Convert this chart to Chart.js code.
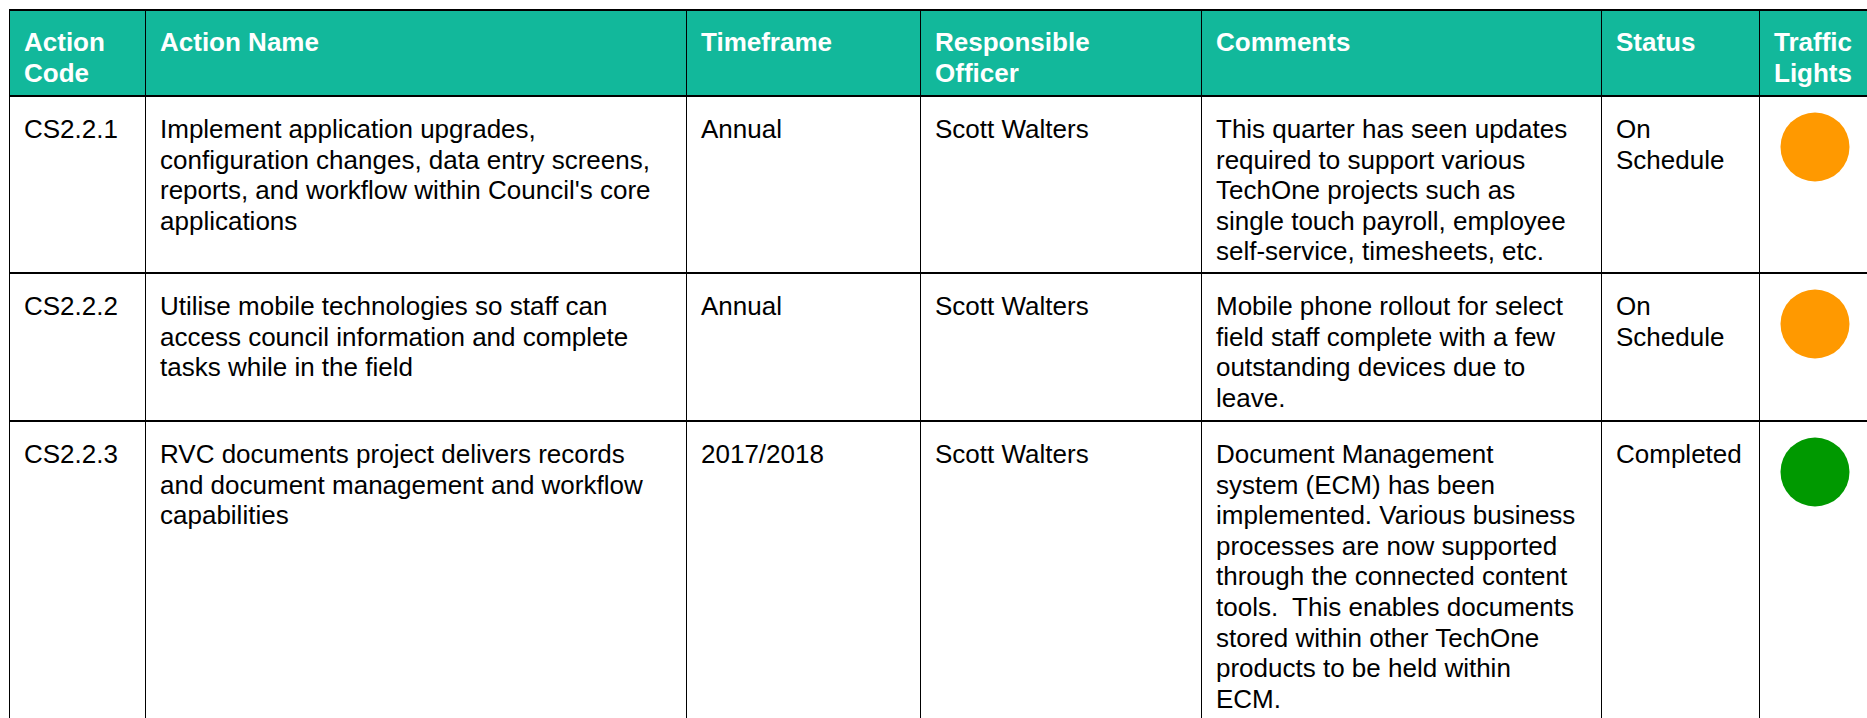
<!DOCTYPE html>
<html>
<head>
<meta charset="utf-8">
<script src="https://cdn.jsdelivr.net/npm/chart.js@4.4.0/dist/chart.umd.min.js"></script>
<style>
html,body{margin:0;padding:0;background:#fff;width:1867px;height:718px;overflow:hidden;}
#plan{position:absolute;left:9px;top:9px;border-collapse:collapse;table-layout:fixed;width:1861px;
  font-family:'Liberation Sans',Arial,sans-serif;font-size:26px;line-height:30.6px;color:#000;}
#plan th,#plan td{border-left:1px solid #000;border-right:1px solid #000;border-top:2px solid #000;border-bottom:2px solid #000;
  vertical-align:top;text-align:left;white-space:pre;padding:17px 4px 0 14px;overflow:hidden;}
#plan th{background:#12b89b;color:#fff;font-weight:bold;padding-top:16px;}
#plan td.light{position:relative;padding:0;}
#plan td.light canvas{position:absolute;left:15px;top:10px;}
</style>
</head>
<body>
<table id="plan">
  <colgroup id="cols"></colgroup>
  <thead><tr id="head" style="height:86px"></tr></thead>
  <tbody id="rows"></tbody>
</table>
<script>
const headers = ['Action\nCode','Action Name','Timeframe','Responsible\nOfficer','Comments','Status','Traffic\nLights'];
const colWidths = [136, 541, 234, 281, 400, 158, 111];
const rowHeights = [177, 148, 320];

const actionCodes = ['CS2.2.1','CS2.2.2','CS2.2.3'];
const actionNames = [
  "Implement application upgrades,\nconfiguration changes, data entry screens,\nreports, and workflow within Council's core\napplications",
  'Utilise mobile technologies so staff can\naccess council information and complete\ntasks while in the field',
  'RVC documents project delivers records\nand document management and workflow\ncapabilities'
];
const timeframes = ['Annual','Annual','2017/2018'];
const officers = ['Scott Walters','Scott Walters','Scott Walters'];
const comments = [
  'This quarter has seen updates\nrequired to support various\nTechOne projects such as\nsingle touch payroll, employee\nself-service, timesheets, etc.',
  'Mobile phone rollout for select\nfield staff complete with a few\noutstanding devices due to\nleave.',
  'Document Management\nsystem (ECM) has been\nimplemented. Various business\nprocesses are now supported\nthrough the connected content\ntools.  This enables documents\nstored within other TechOne\nproducts to be held within\nECM.'
];
const statuses = ['On\nSchedule','On\nSchedule','Completed'];
const lights = ['amber','amber','green'];
const lightColours = {amber:'#ff9900', green:'#009900', red:'#e00000'};

document.getElementById('cols').innerHTML = colWidths.map(w=>`<col style="width:${w}px">`).join('');
const headRow = document.getElementById('head');
headers.forEach(h=>{ const th = document.createElement('th'); th.textContent = h; headRow.appendChild(th); });

const body = document.getElementById('rows');
actionCodes.forEach((code,i)=>{
  const tr = document.createElement('tr');
  tr.style.height = rowHeights[i] + 'px';
  [code, actionNames[i], timeframes[i], officers[i], comments[i], statuses[i]].forEach(txt=>{
    const td = document.createElement('td'); td.textContent = txt; tr.appendChild(td);
  });
  const cell = document.createElement('td');
  cell.className = 'light';
  const cv = document.createElement('canvas');
  cv.width = 80; cv.height = 80;
  cell.appendChild(cv);
  tr.appendChild(cell);
  body.appendChild(tr);

  // one dot per row, placed by the chart's own scales
  new Chart(cv, {
    type:'scatter',
    data:{datasets:[{data:[{x:0,y:0}], pointRadius:34.5, pointHoverRadius:34.5, clip:false,
      backgroundColor:lightColours[lights[i]], borderWidth:0}]},
    options:{responsive:false, animation:false, events:[], layout:{padding:0, autoPadding:false},
      plugins:{legend:{display:false}, tooltip:{enabled:false}},
      scales:{x:{display:false,min:-1,max:1}, y:{display:false,min:-1,max:1}}}
  });
});
</script>
</body>
</html>
